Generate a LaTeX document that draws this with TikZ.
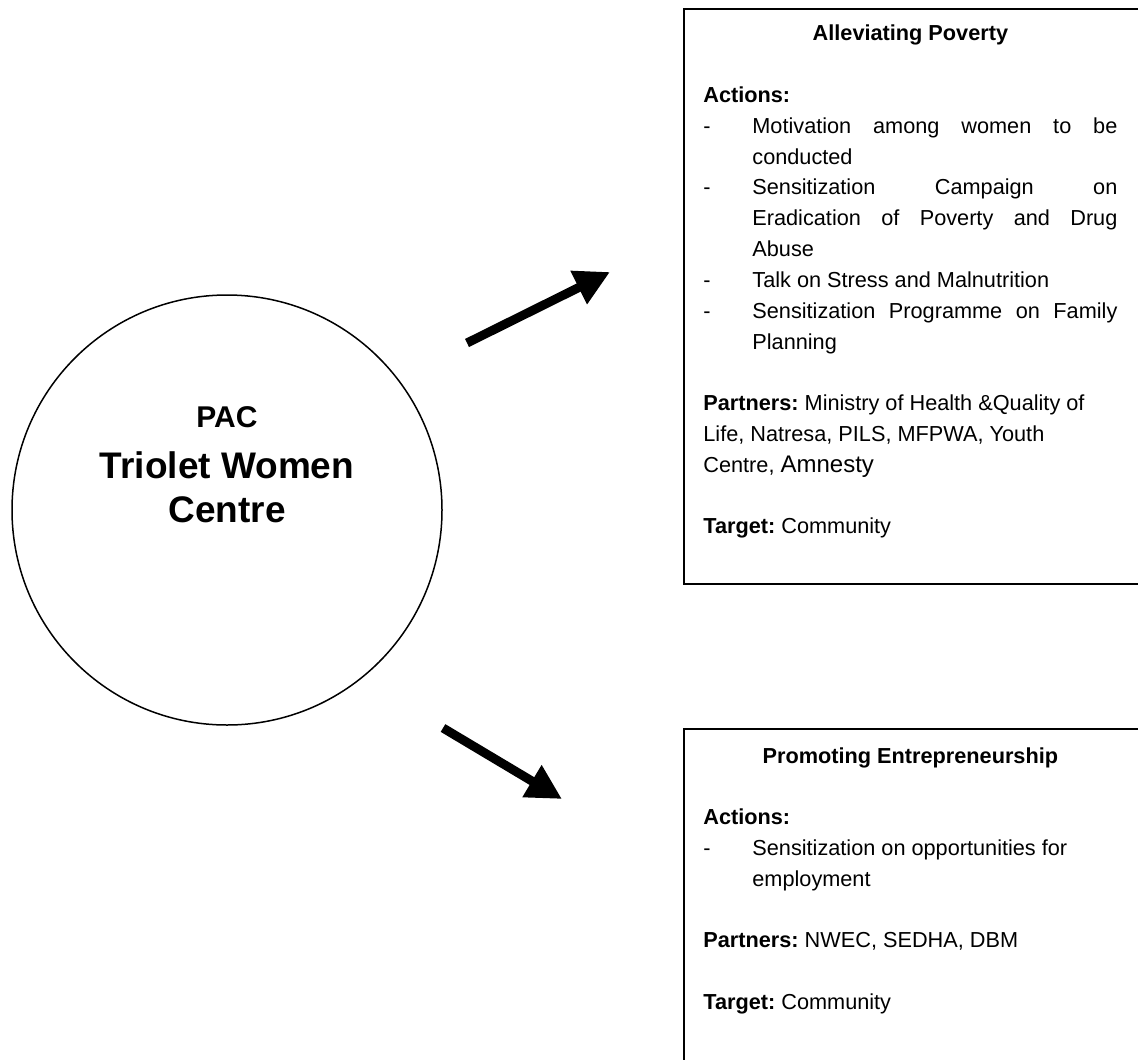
\documentclass[tikz,border=0pt]{standalone}
\usepackage{fontspec}
\setmainfont{Liberation Sans}
\usetikzlibrary{arrows.meta, positioning}
\newcommand{\actionitem}[1]{\par\noindent\hangindent=24.5pt\hangafter=1\makebox[24.5pt][l]{-}#1\par}
\newcommand{\gapline}{\par\vspace{\baselineskip}}
\newcommand{\areasetup}{\tolerance=10000 \hyphenpenalty=10000 \hbadness=10000 \setlength{\parskip}{0pt}\frenchspacing}
\begin{document}
\begin{tikzpicture}[x=0.5pt, y=-0.5pt,
  hub/.style={circle, draw, line width=0.75pt, minimum size=215pt, inner sep=0},
  hubtext/.style={align=center, inner sep=0, font=\bfseries\fontsize{18.5}{22}\selectfont},
  areabox/.style={draw, line width=1pt, anchor=north west, minimum width=235pt},
  areatext/.style={anchor=base west, inner sep=0, text width=207pt, align=justify,
    font=\fontsize{10.85}{15.4}\selectfont, execute at begin node=\areasetup},
  pointer/.style={line width=4.5pt, -{Triangle[length=17.5pt, width=17.5pt]}}]

  \useasboundingbox (0,0) rectangle (1138,1059);
  \clip (0,0) rectangle (1138,1059);

  % PAC
  \node[hub] (pac) at (227,510) {};
  \node[hubtext] (pactext) at (227,465)
    {{\fontsize{15}{18}\selectfont PAC}\\[3.5pt]Triolet Women\\Centre};

  %
  % PAC: ALLEVIATING POVERTY
  \node[areabox, minimum height=287.5pt] (povertybox) at (683,8) {};
  \node[areatext] (povertytext) at (703,41) {%
    \makebox[\linewidth]{\bfseries Alleviating Poverty}\gapline
    \textbf{Actions:}\par
    \actionitem{Motivation among women to be\linebreak conducted}
    \actionitem{Sensitization Campaign on\linebreak Eradication of Poverty and Drug\linebreak Abuse}
    \actionitem{Talk on Stress and Malnutrition}
    \actionitem{Sensitization Programme on Family\linebreak Planning}
    \gapline
    \textbf{Partners:} Ministry of Health \&Quality of\newline Life, Natresa, PILS, MFPWA, Youth\newline Centre, {\fontsize{12}{15.4}\selectfont Amnesty}\gapline
    \textbf{Target:} Community};

  %
  % PAC: PROMOTING ENTREPRENEURSHIP
  \node[areabox, minimum height=200pt] (entrebox) at (683,728) {};
  \node[areatext] (entretext) at (703,763) {%
    \makebox[\linewidth]{\bfseries Promoting Entrepreneurship}\gapline
    \textbf{Actions:}\par
    \actionitem{Sensitization on opportunities for\newline employment}
    \gapline
    \textbf{Partners:} NWEC, SEDHA, DBM\gapline
    \textbf{Target:} Community};

  %
  % ARROWS
  \coordinate (povertytail) at (467,343);
  \coordinate (povertytip) at (610,272);
  \coordinate (entretail) at (443,728);
  \coordinate (entretip) at (562,799);
  \draw[pointer] (povertytail) -- (povertytip);
  \draw[pointer] (entretail) -- (entretip);

\end{tikzpicture}
\end{document}
